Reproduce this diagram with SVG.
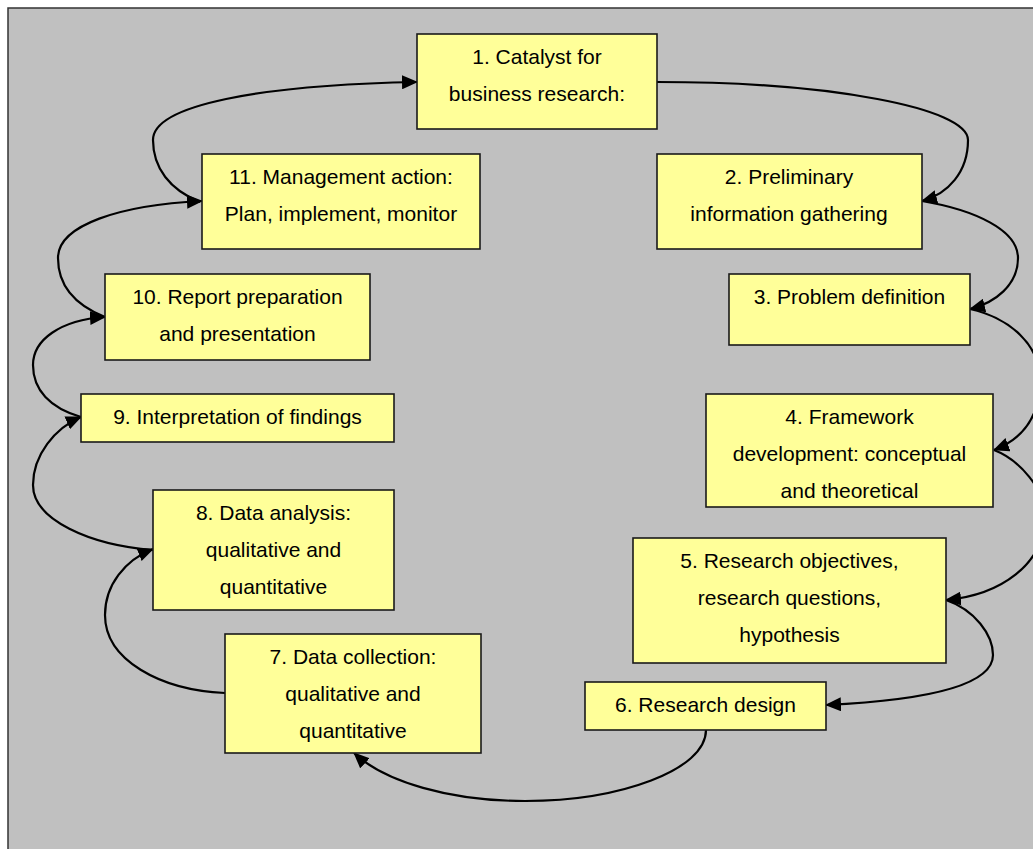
<svg xmlns="http://www.w3.org/2000/svg" width="1033" height="849" viewBox="0 0 1033 849">
<style>
.box{fill:#FFFF99;stroke:#1a1a1a;stroke-width:1.6}
.lbl{font-family:"Liberation Sans",Arial,sans-serif;font-size:21px;fill:#000;text-anchor:middle}
.con{fill:none;stroke:#000;stroke-width:2.2}
</style>
<defs>
<marker id="arr" markerUnits="userSpaceOnUse" markerWidth="16" markerHeight="14" viewBox="0 0 16 14" refX="15" refY="7" orient="auto">
<path d="M0,0 L16,7 L0,14 z" fill="#000"/>
</marker>
</defs>
<rect x="0" y="0" width="1033" height="849" fill="#fff"/>
<rect x="8" y="8" width="1040" height="860" fill="#C0C0C0" stroke="#333" stroke-width="1.5"/>
<g id="connectors">
<path class="con" marker-end="url(#arr)" d="M657,82 C830,82 968,108 968,140 C968,172 948,194 922,201"/>
<path class="con" marker-end="url(#arr)" d="M922,201 C975,210 1018,230 1018,258 C1018,285 995,303 970,309"/>
<path class="con" marker-end="url(#arr)" d="M970,309 C1010,318 1040,345 1040,380 C1040,420 1020,440 994,450"/>
<path class="con" marker-end="url(#arr)" d="M994,450 C1020,460 1045,490 1045,515 C1045,565 1000,595 946,600"/>
<path class="con" marker-end="url(#arr)" d="M946,600 C975,610 993,635 993,655 C993,685 930,700 826,705"/>
<path class="con" marker-end="url(#arr)" d="M706,730 C706,770 620,801 525,801 C450,801 385,782 354,753"/>
<path class="con" marker-end="url(#arr)" d="M225,693 C160,690 105,660 105,615 C105,585 125,560 153,549"/>
<path class="con" marker-end="url(#arr)" d="M153,550 C90,545 33,520 33,485 C33,455 55,428 81,417"/>
<path class="con" marker-end="url(#arr)" d="M81,417 C50,408 33,390 33,365 C33,340 60,320 105,317"/>
<path class="con" marker-end="url(#arr)" d="M105,317 C75,305 58,285 58,258 C58,225 120,205 202,201"/>
<path class="con" marker-end="url(#arr)" d="M200,202 C170,190 153,168 153,140 C153,105 260,85 417,82"/>
</g>
<g id="n1"><rect class="box" x="417" y="34" width="240" height="95"/><text class="lbl" x="537" y="64">1. Catalyst for</text><text class="lbl" x="537" y="101">business research:</text></g>
<g id="n2"><rect class="box" x="657" y="154" width="265" height="95"/><text class="lbl" x="789" y="184">2. Preliminary</text><text class="lbl" x="789" y="221">information gathering</text></g>
<g id="n3"><rect class="box" x="729" y="274" width="241" height="71"/><text class="lbl" x="849.5" y="304">3. Problem definition</text></g>
<g id="n4"><rect class="box" x="706" y="394" width="287" height="113"/><text class="lbl" x="849.5" y="424">4. Framework</text><text class="lbl" x="849.5" y="461">development: conceptual</text><text class="lbl" x="849.5" y="498">and theoretical</text></g>
<g id="n5"><rect class="box" x="633" y="538" width="313" height="125"/><text class="lbl" x="789.5" y="568">5. Research objectives,</text><text class="lbl" x="789.5" y="605">research questions,</text><text class="lbl" x="789.5" y="642">hypothesis</text></g>
<g id="n6"><rect class="box" x="585" y="682" width="241" height="48"/><text class="lbl" x="705.5" y="712">6. Research design</text></g>
<g id="n7"><rect class="box" x="225" y="634" width="256" height="119"/><text class="lbl" x="353" y="664">7. Data collection:</text><text class="lbl" x="353" y="701">qualitative and</text><text class="lbl" x="353" y="738">quantitative</text></g>
<g id="n8"><rect class="box" x="153" y="490" width="241" height="120"/><text class="lbl" x="273.5" y="520">8. Data analysis:</text><text class="lbl" x="273.5" y="557">qualitative and</text><text class="lbl" x="273.5" y="594">quantitative</text></g>
<g id="n9"><rect class="box" x="81" y="394" width="313" height="48"/><text class="lbl" x="237.5" y="424">9. Interpretation of findings</text></g>
<g id="n10"><rect class="box" x="105" y="274" width="265" height="86"/><text class="lbl" x="237.5" y="304">10. Report preparation</text><text class="lbl" x="237.5" y="341">and presentation</text></g>
<g id="n11"><rect class="box" x="202" y="154" width="278" height="95"/><text class="lbl" x="341" y="184">11. Management action:</text><text class="lbl" x="341" y="221">Plan, implement, monitor</text></g>
</svg>
